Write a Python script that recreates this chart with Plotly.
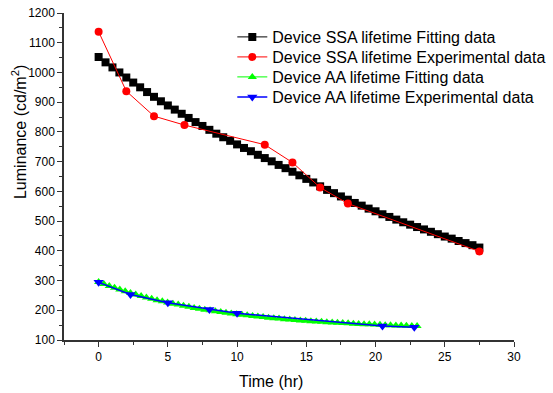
import plotly.graph_objects as go

# SSA fitting (black squares)
ssa_fit_t = [0, 0.5, 1, 1.5, 2, 2.5, 3, 3.5, 4, 4.5, 5, 5.5, 6, 6.5, 7, 7.5, 8, 8.5, 9, 9.5,
             10, 10.5, 11, 11.5, 12, 12.5, 13, 13.5, 14, 14.5, 15, 15.5, 16, 16.5, 17, 17.5,
             18, 18.5, 19, 19.5, 20, 20.5, 21, 21.5, 22, 22.5, 23, 23.5, 24, 24.5, 25, 25.5,
             26, 26.5, 27, 27.5]
ssa_fit_y = [1052, 1034, 1017, 1000, 983, 966, 950, 934, 918, 903, 889, 875, 861, 847, 833,
             820, 807, 794, 782, 770, 758, 746, 735, 723, 712, 701, 689, 678, 666, 654, 642,
             630, 617, 605, 594, 583, 572, 561, 552, 542, 533, 523, 514, 505, 496, 488, 480,
             472, 464, 456, 448, 441, 433, 426, 419, 411]

# SSA experimental (red circles)
ssa_exp_t = [0, 2, 4, 6.2, 12, 14, 16, 18, 27.5]
ssa_exp_y = [1137, 937, 853, 823, 757, 697, 613, 559, 398]

# AA fitting (green triangles)
aa_fit_t = [0, 0.38, 0.77, 1.15, 1.53, 1.92, 2.3, 2.68, 3.07, 3.45, 3.83, 4.22, 4.6, 4.98,
            5.37, 5.75, 6.13, 6.52, 6.9, 7.28, 7.67, 8.05, 8.43, 8.82, 9.2, 9.58, 9.97, 10.35,
            10.73, 11.12, 11.5, 11.88, 12.27, 12.65, 13.03, 13.42, 13.8, 14.18, 14.57, 14.95,
            15.33, 15.72, 16.1, 16.48, 16.87, 17.25, 17.63, 18.02, 18.4, 18.78, 19.17, 19.55,
            19.93, 20.32, 20.7, 21.08, 21.47, 21.85, 22.23, 22.62, 23.0]
aa_fit_y = [295, 288, 282, 276, 270, 264, 258, 253, 248, 243, 239, 234, 230, 226, 222, 219,
            215, 212, 208, 205, 202, 200, 197, 194, 192, 189, 187, 185, 183, 181, 179, 177,
            175, 173, 172, 170, 169, 167, 166, 165, 163, 162, 161, 160, 159, 158, 157, 156,
            155, 154, 153, 153, 152, 151, 150, 150, 149, 149, 148, 147, 147]

# AA experimental (blue down-triangles)
aa_exp_t = [0, 2.3, 5, 8, 10, 20.5, 22.8]
aa_exp_y = [294, 253, 225, 203, 190, 147, 143]

names = ["Device SSA lifetime Fitting data",
         "Device SSA lifetime Experimental data",
         "Device AA lifetime Fitting data",
         "Device AA lifetime Experimental data"]
x_title = "Time (hr)"
y_title = "Luminance (cd/m<sup>2</sup>)"

FONT = "Liberation Sans, Arial, sans-serif"

fig = go.Figure()
fig.add_trace(go.Scatter(x=ssa_fit_t, y=ssa_fit_y, mode="lines+markers", name=names[0],
                         legend="legend",
                         line=dict(color="black", width=1),
                         marker=dict(symbol="square", size=8, color="black")))
fig.add_trace(go.Scatter(x=ssa_exp_t, y=ssa_exp_y, mode="lines+markers", name=names[1],
                         legend="legend2",
                         line=dict(color="#ff0000", width=1),
                         marker=dict(symbol="circle", size=8, color="#ff0000")))
fig.add_trace(go.Scatter(x=aa_fit_t, y=aa_fit_y, mode="lines+markers", name=names[2],
                         legend="legend3",
                         line=dict(color="#00ff00", width=1),
                         marker=dict(symbol="triangle-up", size=8, color="#00ff00")))
fig.add_trace(go.Scatter(x=aa_exp_t, y=aa_exp_y, mode="lines+markers", name=names[3],
                         legend="legend4",
                         line=dict(color="#0000ff", width=1.5),
                         marker=dict(symbol="triangle-down", size=9, color="#0000ff")))

axis_common = dict(showgrid=False, zeroline=False, showline=True, linecolor="#333333",
                   linewidth=1.5, ticks="outside", ticklen=5, tickwidth=1.2,
                   tickcolor="#333333", mirror=False, automargin=False,
                   ticklabeloverflow="allow",
                   tickfont=dict(family=FONT, size=12, color="black"))

fig.update_xaxes(range=[-2.5, 30], tickvals=[0, 5, 10, 15, 20, 25, 30],
                 minor=dict(ticks="outside", ticklen=3, tickcolor="#333333", dtick=2.5, tick0=0),
                 **axis_common)
fig.update_yaxes(range=[100, 1200], dtick=100,
                 minor=dict(ticks="outside", ticklen=3, tickcolor="#333333", dtick=50),
                 **axis_common)

title_font = dict(family=FONT, size=16, color="black")
fig.add_annotation(text=x_title, xref="paper", yref="paper", x=0.46, y=-0.1254,
                   xanchor="center", yanchor="middle", showarrow=False, font=title_font)
fig.add_annotation(text=y_title, xref="paper", yref="paper", x=-0.1, y=0.636,
                   xanchor="center", yanchor="middle", textangle=-90, showarrow=False,
                   font=title_font)

leg_common = dict(x=0.374, xanchor="left", yanchor="middle", bgcolor="rgba(0,0,0,0)",
                  font=dict(family=FONT, size=16, color="black"))

fig.update_layout(
    width=553, height=393,
    margin=dict(l=64, r=39, t=13, b=53, autoexpand=False),
    plot_bgcolor="white", paper_bgcolor="white",
    legend=dict(y=0.9266, **leg_common),
    legend2=dict(y=0.8654, **leg_common),
    legend3=dict(y=0.8043, **leg_common),
    legend4=dict(y=0.7431, **leg_common),
    showlegend=True,
)

fig.write_html("out.html", config={"displayModeBar": False},
               post_script="document.body.style.margin='0px';")
